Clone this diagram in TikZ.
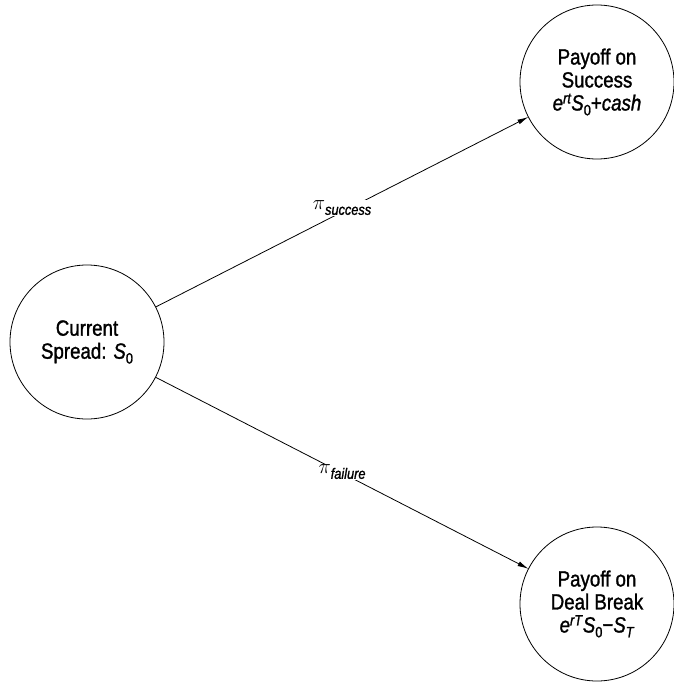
\documentclass[tikz,border=0pt]{standalone}
\usepackage{fontspec}
\setmainfont{Liberation Sans}[FakeStretch=0.85, FakeBold=1.3]
\usepackage{xcolor}
\usepackage{tikz}
\usetikzlibrary{arrows.meta}
\newcommand\lo[1]{\raisebox{-0.22em}{\fontsize{15}{15}\selectfont #1}}
\newcommand\hi[1]{\raisebox{0.32em}{\fontsize{15}{15}\selectfont #1}}

\begin{document}
\begin{tikzpicture}[
    x=1pt, y=1pt,
    font=\fontsize{22}{23}\selectfont,
    state/.style={circle, draw=black, line width=0.8pt, fill=white, align=center,
                  minimum size=154pt, inner sep=0pt, outer sep=0pt},
    arrow/.style={-{Latex[length=11pt, width=5pt]}, line width=0.8pt, draw=black},
    problabel/.style={font=\fontsize{22}{24}\selectfont, fill=white,
                      inner xsep=2pt, inner ysep=1pt}
  ]
    \useasboundingbox (0,0) rectangle (673,-682);

    \node[state] (spread)  at (87,-342)  {Current\\Spread: \textit{S}\lo{0}};
    \node[state] (success) at (597,-82)  {Payoff on\\Success\\
      \textit{e}\hi{\textit{rt}}\textit{S}\lo{0}+\textit{cash}};
    \node[state] (failure) at (597,-604) {Payoff on\\Deal Break\\
      \textit{e}\hi{\textit{rT}}\textit{S}\lo{0}−\textit{S}\lo{\textit{T}}};

    \draw[arrow] (spread) -- (success)
      node[midway, yshift=4pt, problabel] {$\pi$\lo{\textit{success}}};
    \draw[arrow] (spread) -- (failure)
      node[midway, yshift=1pt, problabel] {$\pi$\lo{\textit{failure}}};
\end{tikzpicture}
\end{document}
